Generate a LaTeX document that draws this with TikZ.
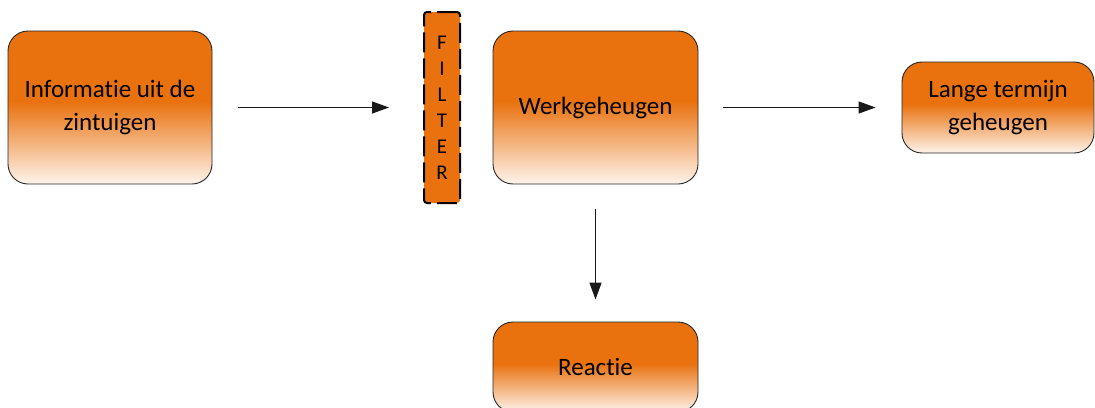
\documentclass[tikz,border=0pt]{standalone}
\usepackage{fontspec}
\setmainfont{Carlito}[Ligatures={NoCommon}]
\usetikzlibrary{arrows.meta}
\definecolor{boxor}{RGB}{233,113,14}
\definecolor{boxpale}{RGB}{254,244,236}
\pgfdeclareverticalshading{orfade}{100bp}{color(0bp)=(boxpale); color(25bp)=(boxpale); color(52bp)=(boxor); color(100bp)=(boxor)}
\tikzset{
  stage/.style={rectangle, rounded corners=20pt, draw=black!85, line width=0.9pt,
    shading=orfade, align=center, inner sep=0pt,
    font=\fontsize{25}{33}\selectfont},
  filterbox/.style={rectangle, rounded corners=3pt, draw=black, fill=boxor,
    line width=2pt, dash pattern=on 20pt off 6pt, align=center, inner sep=0pt,
    font=\fontsize{21}{26}\selectfont},
  flow/.style={-{Triangle[length=17pt,width=12pt]}, line width=1.3pt, black!90}
}
\begin{document}
\begin{tikzpicture}[x=1pt,y=-1pt]
\useasboundingbox (0,0) rectangle (1095,407);
\node[stage, minimum width=204pt, minimum height=153pt] (A) at (110,107.5) {Informatie uit de\\zintuigen};
\node[filterbox, minimum width=36pt, minimum height=191pt] (F) at (442,107.5) {F\\I\\L\\T\\E\\R};
\node[stage, minimum width=205pt, minimum height=153pt] (W) at (595.5,107.5) {Werkgeheugen};
\node[stage, minimum width=192pt, minimum height=91pt] (L) at (998,107.5) {Lange termijn\\geheugen};
\node[stage, minimum width=205pt, minimum height=90pt] (R) at (595.5,367) {Reactie};
\draw[flow, shorten <=26pt, shorten >=34pt] (A) -- (F);
\draw[flow, shorten <=25pt, shorten >=26pt] (W) -- (L);
\draw[flow, shorten <=25pt, shorten >=22pt] (W) -- (R);
\end{tikzpicture}
\end{document}
